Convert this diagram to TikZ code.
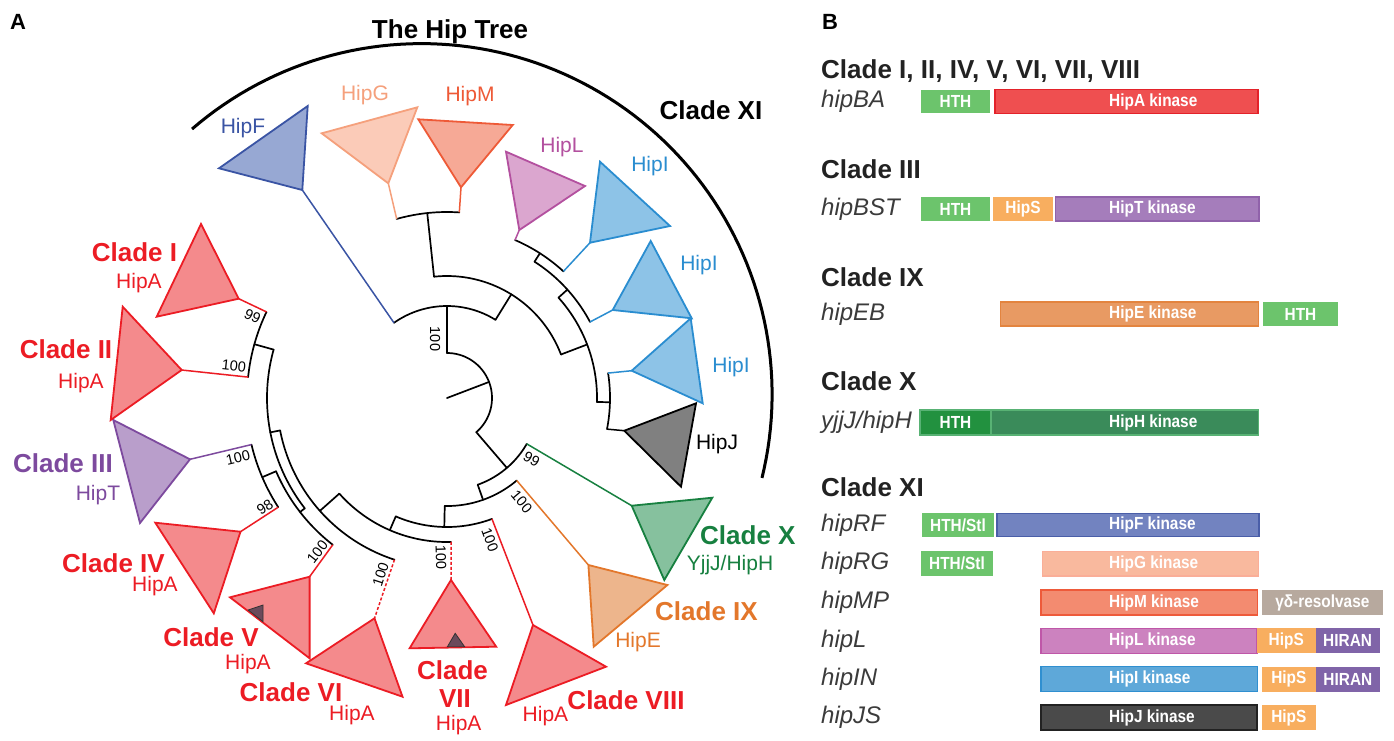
\documentclass[tikz,border=0pt]{standalone}
\usepackage{fontspec}
\setmainfont{Liberation Sans}
\usepackage{graphicx}
\usetikzlibrary{calc}
% tree colours
\definecolor{cred}{HTML}{EC1C24}\definecolor{credf}{HTML}{F48A8C}
\definecolor{cpur}{HTML}{7D4A9E}\definecolor{cpurf}{HTML}{B99ECB}
\definecolor{cora}{HTML}{E3772B}\definecolor{coraf}{HTML}{EDB58C}
\definecolor{cgrn}{HTML}{178040}\definecolor{cgrnf}{HTML}{86C19E}
\definecolor{cblu}{HTML}{3A54A4}\definecolor{cbluf}{HTML}{97A8D3}
\definecolor{csal}{HTML}{F5A07C}\definecolor{csalf}{HTML}{FBCBB8}
\definecolor{cmor}{HTML}{EE5A37}\definecolor{cmorf}{HTML}{F6A996}
\definecolor{cmag}{HTML}{B3509F}\definecolor{cmagf}{HTML}{DBA6CF}
\definecolor{ccya}{HTML}{2A8DD0}\definecolor{ccyaf}{HTML}{8DC3E7}
\definecolor{cgryf}{HTML}{808080}\definecolor{cdark}{HTML}{6B4A5B}
% panel B colours
\definecolor{bHTH}{HTML}{6CC46C}
\definecolor{bAk}{HTML}{EF4F50}\definecolor{bAkd}{HTML}{E3222A}
\definecolor{bS}{HTML}{F8AE5F}
\definecolor{bTk}{HTML}{A57DBB}\definecolor{bTkd}{HTML}{9062AA}
\definecolor{bEk}{HTML}{E89A63}\definecolor{bEkd}{HTML}{E3843F}
\definecolor{bHTHd}{HTML}{22913F}
\definecolor{bHk}{HTML}{3A8B5A}\definecolor{bHkd}{HTML}{58B274}
\definecolor{bFk}{HTML}{7283C0}\definecolor{bFkd}{HTML}{4A5EA8}
\definecolor{bGk}{HTML}{F9B99E}\definecolor{bGkd}{HTML}{FAAE98}
\definecolor{bMk}{HTML}{F38B70}\definecolor{bMkd}{HTML}{EE5A3A}
\definecolor{bres}{HTML}{B7A99E}
\definecolor{bLk}{HTML}{CC82BF}\definecolor{bLkd}{HTML}{BF57A8}
\definecolor{bHIRAN}{HTML}{8064A8}
\definecolor{bIk}{HTML}{5EA8D9}\definecolor{bIkd}{HTML}{2F8FD0}
\definecolor{bJk}{HTML}{4A4A4A}\definecolor{bJkd}{HTML}{222222}
\definecolor{genegray}{HTML}{3B3B3B}\definecolor{headgray}{HTML}{222222}

\newcommand{\tarc}[3]{\draw[branch] plot[domain=#1:#2,samples=60] ({447+#3*cos(\x)},{398+#3*sin(\x)});}
\newcommand{\trad}[3]{\draw[branch] ({447+#2*cos(#1)},{398+#2*sin(#1)}) -- ({447+#3*cos(#1)},{398+#3*sin(#1)});}
\newcommand{\bx}[1]{\scalebox{0.88}[1]{#1}}

\tikzset{
 branch/.style={line width=1.7pt, black, line cap=round},
 lbr/.style={line width=1.5pt},
 dbr/.style={line width=1.5pt, dash pattern=on 3pt off 2pt},
 tri/.style={line width=1.8pt, line join=miter},
 cl/.style={font=\fontsize{26}{30}\selectfont\bfseries, inner sep=0pt},
 hl/.style={font=\fontsize{21}{25}\selectfont, inner sep=0pt},
 bs/.style={font=\fontsize{14.5}{16}\selectfont, inner sep=0pt},
 gene/.style={font=\fontsize{24}{28}\selectfont\itshape, text=genegray, inner sep=0pt, anchor=west},
 head/.style={font=\fontsize{26}{30}\selectfont\bfseries, text=headgray, inner sep=0pt, anchor=base west},
 dom/.style={inner sep=0pt, outer sep=0pt, line width=1.3pt, text=white, font=\fontsize{17.5}{20}\selectfont\bfseries},
 klab/.style={inner sep=0pt, anchor=west, font=\fontsize{17.5}{20}\selectfont\bfseries, text=white},
}

\begin{document}
\begin{tikzpicture}[x=1pt,y=-1pt]
\useasboundingbox (0,0) rectangle (1394,740);
\fill[white] (0,0) rectangle (1394,740);

% ---------------- panel letters and title
\node[font=\fontsize{22}{26}\selectfont\bfseries, inner sep=0pt] (pA) at (18,22) {A};
\node[font=\fontsize{22}{26}\selectfont\bfseries, inner sep=0pt] (pB) at (830,22) {B};
\node[cl] (title) at (450,32) {The Hip Tree};

% Clade XI outer arc
\draw[line width=3pt] plot[domain=-130.85:13.8,samples=90] ({421.4+350.7*cos(\x)},{394.3+350.7*sin(\x)});
\node[cl] (lXI) at (711,110) {Clade XI};

% ---------------- internal branches (black)
\trad{-20.9}{0}{45}
\tarc{-90}{49.4}{45}
% upper part
\trad{-90}{45}{92}   \tarc{-125.2}{-58.2}{92}
\trad{-58.2}{92}{122} \tarc{-96.1}{-20.9}{122}
\trad{-96.1}{122}{186} \tarc{-105.7}{-86.2}{186}
\trad{-20.9}{122}{150} \tarc{-42}{1.5}{150}
\trad{-42}{150}{162} \tarc{-57.3}{-28}{162}
\trad{-57.3}{162}{172} \tarc{-66.7}{-47.4}{172}
\trad{1.5}{150}{163} \tarc{-8.8}{11}{163}
% lower part
\trad{49.4}{45}{92}  \tarc{29.9}{70.5}{92}
\trad{70.5}{92}{108} \tarc{49.8}{91.2}{108}
\trad{91.2}{108}{129} \tarc{69.6}{113.4}{129}
\trad{113.4}{129}{144} \tarc{88.4}{138.4}{144}
\trad{138.4}{144}{170} \tarc{108}{169}{170}
\trad{169}{170}{180} \tarc{142.2}{195.6}{180}
\trad{195.6}{180}{200} \tarc{186}{205.5}{200}
\trad{142.2}{180}{186} \tarc{127.9}{156.8}{186}
\trad{156.8}{186}{201} \tarc{147.1}{166.6}{201}

% ---------------- leaf branch start points and triangle apices
\coordinate (sF) at ({447+92*cos(-125.2)},{398+92*sin(-125.2)});   \coordinate (aF) at (302.3,190);
\coordinate (sG) at ({447+186*cos(-105.7)},{398+186*sin(-105.7)}); \coordinate (aG) at (388.3,183.3);
\coordinate (sM) at ({447+186*cos(-86.2)},{398+186*sin(-86.2)});   \coordinate (aM) at (461,187.3);
\coordinate (sL) at ({447+172*cos(-66.7)},{398+172*sin(-66.7)});   \coordinate (aL) at (519.3,230);
\coordinate (sI1) at ({447+172*cos(-47.4)},{398+172*sin(-47.4)});  \coordinate (aI1) at (590,242.7);
\coordinate (sI2) at ({447+162*cos(-28)},{398+162*sin(-28)});      \coordinate (aI2) at (612.7,310);
\coordinate (sI3) at ({447+163*cos(-8.8)},{398+163*sin(-8.8)});    \coordinate (aI3) at (631.7,370.7);
\coordinate (sJ) at ({447+163*cos(11)},{398+163*sin(11)});         \coordinate (aJ) at (624.3,430.7);
\coordinate (sX) at ({447+92*cos(29.9)},{398+92*sin(29.9)});       \coordinate (aX) at (631.7,505.7);
\coordinate (sIX) at ({447+108*cos(49.8)},{398+108*sin(49.8)});    \coordinate (aIX) at (588.4,565);
\coordinate (sVIII) at ({447+129*cos(69.6)},{398+129*sin(69.6)});  \coordinate (aVIII) at (533,625);
\coordinate (sVII) at ({447+144*cos(88.4)},{398+144*sin(88.4)});   \coordinate (aVII) at (451,580);
\coordinate (sVI) at ({447+170*cos(108)},{398+170*sin(108)});      \coordinate (aVI) at (374.5,618.3);
\coordinate (sV) at ({447+186*cos(127.9)},{398+186*sin(127.9)});   \coordinate (aV) at (309.6,576.7);
\coordinate (sIV) at ({447+201*cos(147.1)},{398+201*sin(147.1)});  \coordinate (aIV) at (240.5,531.7);
\coordinate (sIII) at ({447+201*cos(166.6)},{398+201*sin(166.6)}); \coordinate (aIII) at (190,459.3);
\coordinate (sII) at ({447+200*cos(186)},{398+200*sin(186)});      \coordinate (aII) at (181.7,370);
\coordinate (sI) at ({447+200*cos(205.5)},{398+200*sin(205.5)});   \coordinate (aI) at (238.7,298.7);

% ---------------- coloured leaf branches
\draw[lbr,cblu] (sF) -- (aF);
\draw[lbr,csal] (sG) -- (aG);
\draw[lbr,cmor] (sM) -- (aM);
\draw[lbr,cmag] (sL) -- (aL);
\draw[lbr,ccya] (sI1) -- (aI1);
\draw[lbr,ccya] (sI2) -- (aI2);
\draw[lbr,ccya] (sI3) -- (aI3);
\draw[lbr,black] (sJ) -- (aJ);
\draw[lbr,cgrn] (sX) -- (aX);
\draw[lbr,cora] (sIX) -- (aIX);
\draw[lbr,cred] (sVIII) -- (aVIII);
\draw[dbr,cred] (sVII) -- (aVII);
\draw[dbr,cred] (sVI) -- (aVI);
\draw[lbr,cred] (sV) -- (aV);
\draw[lbr,cred] (sIV) -- (aIV);
\draw[lbr,cpur] (sIII) -- (aIII);
\draw[lbr,cred] (sII) -- (aII);
\draw[lbr,cred] (sI) -- (aI);

% ---------------- triangles
\draw[tri,draw=cblu,fill=cbluf] (aF) -- (219,168.3) -- (307.7,106) -- cycle;
\draw[tri,draw=csal,fill=csalf] (aG) -- (321.7,133.3) -- (417.3,107.3) -- cycle;
\draw[tri,draw=cmor,fill=cmorf] (aM) -- (418.3,119.3) -- (512.7,125) -- cycle;
\draw[tri,draw=cmag,fill=cmagf] (aL) -- (506,151.7) -- (585,186) -- cycle;
\draw[tri,draw=ccya,fill=ccyaf] (aI1) -- (600,161.7) -- (670,226) -- cycle;
\draw[tri,draw=ccya,fill=ccyaf] (aI2) -- (650.7,241) -- (691.7,318.3) -- cycle;
\draw[tri,draw=ccya,fill=ccyaf] (aI3) -- (690.7,318.3) -- (702.7,403.3) -- cycle;
\draw[tri,draw=black,fill=cgryf] (aJ) -- (696,403.3) -- (681,486.7) -- cycle;
\draw[tri,draw=cgrn,fill=cgrnf] (aX) -- (712.3,497.7) -- (664.3,580) -- cycle;
\draw[tri,draw=cora,fill=coraf] (aIX) -- (667.4,585) -- (593.7,646.7) -- cycle;
\draw[tri,draw=cred,fill=credf] (aVIII) -- (606,666.7) -- (506,705) -- cycle;
\draw[tri,draw=cred,fill=credf] (aVII) -- (496.2,646.7) -- (409.6,648.3) -- cycle;
\draw[tri,draw=cred,fill=credf] (aVI) -- (402.5,696.7) -- (306.1,663.3) -- cycle;
\draw[tri,draw=cred,fill=credf] (aV) -- (309.6,658.3) -- (230,597.3) -- cycle;
\draw[tri,draw=cred,fill=credf] (aIV) -- (213.8,613.3) -- (155.3,522.7) -- cycle;
\draw[tri,draw=cpur,fill=cpurf] (aIII) -- (140,523) -- (113.3,420) -- cycle;
\draw[tri,draw=cred,fill=credf] (aII) -- (110.7,420) -- (122.7,306.7) -- cycle;
\draw[tri,draw=cred,fill=credf] (aI) -- (156.7,316.7) -- (201,224) -- cycle;
% small dark triangles
\draw[line width=0.8pt,draw=black!80,fill=cdark] (248.2,610) -- (263,605) -- (263,621.7) -- cycle;
\draw[line width=0.8pt,draw=black!80,fill=cdark] (447.4,646.7) -- (455.2,633.3) -- (464.6,646.7) -- cycle;

% ---------------- bootstrap values
\node[bs,rotate=-90] (b1) at (435,339) {100};
\node[bs,rotate=-25.5] (b2) at (252.5,316) {99};
\node[bs,rotate=-6] (b3) at (234,366) {100};
\node[bs,rotate=13.4] (b4) at (238,458) {100};
\node[bs,rotate=32.9] (b5) at (265,507) {98};
\node[bs,rotate=52] (b6) at (317.5,552) {100};
\node[bs,rotate=72] (b7) at (380.6,574.5) {100};
\node[bs,rotate=-88.4] (b8) at (441,557.5) {100};
\node[bs,rotate=-69.6] (b9) at (490,540) {100};
\node[bs,rotate=-49.8] (b10) at (521.7,501.7) {100};
\node[bs,rotate=-29.9] (b11) at (531.7,459) {99};

% ---------------- leaf labels
\node[hl,text=cblu] (tF) at (243,128) {HipF};
\node[hl,text=csal] (tG) at (365,95) {HipG};
\node[hl,text=cmor] (tM) at (470,96) {HipM};
\node[hl,text=cmag] (tL) at (562,147) {HipL};
\node[hl,text=ccya] (tI1) at (650,166) {HipI};
\node[hl,text=ccya] (tI2) at (699,265) {HipI};
\node[hl,text=ccya] (tI3) at (731,367) {HipI};
\node[hl,text=black] (tJ) at (717,444) {HipJ};

\node[cl,text=cred] (lI) at (134.5,252) {Clade I};
\node[hl,text=cred] (hI) at (139,283) {HipA};
\node[cl,text=cred] (lII) at (66,349) {Clade II};
\node[hl,text=cred] (hII) at (81,383) {HipA};
\node[cl,text=cpur] (lIII) at (63,463) {Clade III};
\node[hl,text=cpur] (hIII) at (98,495) {HipT};
\node[cl,text=cred] (lIV) at (113.5,563) {Clade IV};
\node[hl,text=cred] (hIV) at (155,586) {HipA};
\node[cl,text=cred] (lV) at (211,637) {Clade V};
\node[hl,text=cred] (hV) at (248,664) {HipA};
\node[cl,text=cred] (lVI) at (291,692.5) {Clade VI};
\node[hl,text=cred] (hVI) at (352,715) {HipA};
\node[cl,text=cred] (lVIIa) at (452.5,670) {Clade};
\node[cl,text=cred] (lVIIb) at (455,699) {VII};
\node[hl,text=cred] (hVII) at (458.7,725) {HipA};
\node[cl,text=cred] (lVIII) at (626,700) {Clade VIII};
\node[hl,text=cred] (hVIII) at (545.5,716) {HipA};
\node[cl,text=cora,anchor=west] (lIX) at (655,611) {Clade IX};
\node[hl,text=cora] (hIX) at (638,642.5) {HipE};
\node[cl,text=cgrn,anchor=west] (lX) at (700,535) {Clade X};
\node[hl,text=cgrn] (hX) at (730,565) {YjjJ/HipH};

% ================= panel B
\node[head] (h1) at (821,78.3) {Clade I, II, IV, V, VI, VII, VIII};
\node[head] (h2) at (821,178.3) {Clade III};
\node[head] (h3) at (821,286.7) {Clade IX};
\node[head] (h4) at (821,390) {Clade X};
\node[head] (h5) at (821,496.7) {Clade XI};

\node[gene] (gBA) at (821,101.5) {hipBA};
\node[gene] (gBST) at (821,209) {hipBST};
\node[gene] (gEB) at (821,314) {hipEB};
\node[gene] (gH) at (821,422.5) {yjjJ/hipH};
\node[gene] (gRF) at (821,525) {hipRF};
\node[gene] (gRG) at (821,563.7) {hipRG};
\node[gene] (gMP) at (821,602.5) {hipMP};
\node[gene] (gL) at (821,640.8) {hipL};
\node[gene] (gIN) at (821,679.2) {hipIN};
\node[gene] (gJS) at (821,717.5) {hipJS};

% row hipBA
\node[dom,fill=bHTH,minimum width=69pt,minimum height=23pt] (r1a) at (955.5,101.5) {\bx{HTH}};
\node[dom,fill=bAk,draw=bAkd,minimum width=263pt,minimum height=24pt] (r1b) at (1126.5,101.5) {};
\node[klab] (r1bt) at (1109,101.5) {\bx{HipA kinase}};
% row hipBST
\node[dom,fill=bHTH,minimum width=69pt,minimum height=24pt] (r2a) at (955.5,209) {\bx{HTH}};
\node[dom,fill=bS,minimum width=60pt,minimum height=24pt] (r2b) at (1023,209) {\bx{HipS}};
\node[dom,fill=bTk,draw=bTkd,minimum width=203.5pt,minimum height=24pt] (r2c) at (1157.25,209) {};
\node[klab] (r2ct) at (1109,209) {\bx{HipT kinase}};
% row hipEB
\node[dom,fill=bEk,draw=bEkd,minimum width=258pt,minimum height=24pt] (r3a) at (1129.5,314) {};
\node[klab] (r3at) at (1109,314) {\bx{HipE kinase}};
\node[dom,fill=bHTH,minimum width=75pt,minimum height=24pt] (r3b) at (1300.5,314) {\bx{HTH}};
% row yjjJ/hipH
\node[dom,fill=bHTHd,draw=bHTHd,minimum width=71pt,minimum height=25pt] (r4a) at (955.5,422.5) {};
\node[dom,fill=bHk,draw=bHkd,minimum width=267.5pt,minimum height=25pt] (r4b) at (1124.75,422.5) {};
\draw[bHkd,line width=1.3pt] (r4a.north west) rectangle (r4b.south east);
\node[dom] (r4at) at (955.5,422.5) {\bx{HTH}};
\node[klab] (r4bt) at (1109,422.5) {\bx{HipH kinase}};
% row hipRF
\node[dom,fill=bHTH,minimum width=72pt,minimum height=23.4pt] (r5a) at (958,525) {\bx{HTH/Stl}};
\node[dom,fill=bFk,draw=bFkd,minimum width=262pt,minimum height=23.4pt] (r5b) at (1128,525) {};
\node[klab] (r5bt) at (1109,525) {\bx{HipF kinase}};
% row hipRG
\node[dom,fill=bHTH,minimum width=72pt,minimum height=24.7pt] (r6a) at (957,563.7) {\bx{HTH/Stl}};
\node[dom,fill=bGk,draw=bGkd,minimum width=216.5pt,minimum height=24.7pt] (r6b) at (1150.5,563.7) {};
\node[klab] (r6bt) at (1109,563.7) {\bx{HipG kinase}};
% row hipMP
\node[dom,fill=bMk,draw=bMkd,minimum width=216.5pt,minimum height=25pt] (r7a) at (1149.25,602.5) {};
\node[klab] (r7at) at (1109,602.5) {\bx{HipM kinase}};
\node[dom,fill=bres,minimum width=120.7pt,minimum height=25pt] (r7b) at (1322.35,602.5) {\bx{γδ-resolvase}};
% row hipL
\node[dom,fill=bLk,draw=bLkd,minimum width=216pt,minimum height=25pt] (r8a) at (1149,640.8) {};
\node[klab] (r8at) at (1109,640.8) {\bx{HipL kinase}};
\node[dom,fill=bS,minimum width=58.5pt,minimum height=25pt] (r8b) at (1286.25,640.8) {\bx{HipS}};
\node[dom,fill=bHIRAN,minimum width=64.2pt,minimum height=25pt] (r8c) at (1347.6,640.8) {\bx{HIRAN}};
% row hipIN
\node[dom,fill=bIk,draw=bIkd,minimum width=216.5pt,minimum height=25pt] (r9a) at (1149.25,679.2) {};
\node[klab] (r9at) at (1109,679.2) {\bx{HipI kinase}};
\node[dom,fill=bS,minimum width=53.7pt,minimum height=25pt] (r9b) at (1288.85,679.2) {\bx{HipS}};
\node[dom,fill=bHIRAN,minimum width=63.7pt,minimum height=25pt] (r9c) at (1347.85,679.2) {\bx{HIRAN}};
% row hipJS
\node[dom,fill=bJk,draw=bJkd,minimum width=216pt,minimum height=25pt] (r10a) at (1149,717.5) {};
\node[klab] (r10at) at (1109,717.5) {\bx{HipJ kinase}};
\node[dom,fill=bS,minimum width=53.7pt,minimum height=25pt] (r10b) at (1288.85,717.5) {\bx{HipS}};
\end{tikzpicture}
\end{document}
